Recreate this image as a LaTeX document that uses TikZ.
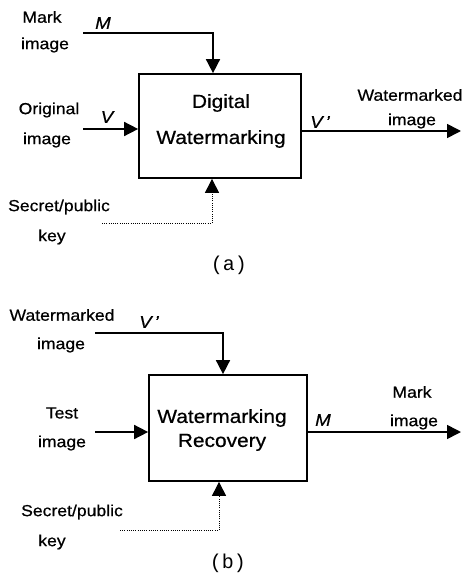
\documentclass[tikz,border=0pt]{standalone}
\usepackage{fontspec}
\setsansfont{Liberation Sans}[FakeStretch=1.1,FakeBold=0.6]
\setmonofont{Liberation Mono}
\usetikzlibrary{arrows.meta}

\begin{document}
\begin{tikzpicture}[x=1pt,y=-1pt,>={Triangle[length=14pt,width=14pt]},line width=1.6pt,
  lbl/.style={font=\sffamily\fontsize{16}{18}\selectfont,inner sep=0pt},
  sym/.style={font=\sffamily\itshape\fontsize{17}{19}\selectfont,inner sep=0pt},
  blk/.style={draw,line width=1.7pt,inner sep=0pt},
  btxt/.style={font=\sffamily\fontsize{19}{24}\selectfont,align=center,inner sep=0pt},
  keyline/.style={line width=0.7pt,dash pattern=on 0.7pt off 1.5pt},
  subcap/.style={font=\ttfamily\fontsize{20}{22}\selectfont,inner sep=0pt}]
  \useasboundingbox (0,0) rectangle (463,578);

  % (a) embedding
  \node[blk,minimum width=162pt,minimum height=104pt] (DW) at (220,126) {};
  \node[btxt] (DWt) at (221,121) {Digital\\[12pt]Watermarking};
  \node[lbl] (MkA) at (42,17) {Mark};
  \node[lbl] (MkAi) at (45,45) {image};
  \node[sym] (MA) at (103,23) {M};
  \node[lbl] (Org) at (49,110) {Original};
  \node[lbl] (Orgi) at (47,140) {image};
  \node[sym] (VA) at (107,117) {V};
  \node[sym] (VpA) at (320,122) {V\,'};
  \node[lbl] (WmA) at (410,95) {Watermarked};
  \node[lbl] (WmAi) at (412,121) {image};
  \node[lbl] (SkA) at (59,207) {Secret/public};
  \node[lbl] (SkAk) at (52,237) {key};
  \node[subcap] (capa) at (229,265) {(a)};
  \coordinate (MinA) at (83,33);
  \coordinate (VinA) at (83,129);
  \coordinate (VoutA) at (461,131);
  \coordinate (KinA) at (102,223);
  \draw[->] (MinA) -| ([xshift=-7pt]DW.north);
  \draw[->] (VinA) -- (VinA -| DW.west);
  \draw[->] (DW.east |- VoutA) -- (VoutA);
  \draw[->,keyline] (KinA) -| ([xshift=-8pt]DW.south);

  % (b) recovery
  \node[blk,minimum width=158pt,minimum height=106pt] (WR) at (228,428) {};
  \node[btxt] (WRt) at (222,430) {Watermarking\\Recovery};
  \node[lbl] (WmB) at (62,315) {Watermarked};
  \node[lbl] (WmBi) at (61,345) {image};
  \node[sym] (VpB) at (149,322) {V\,'};
  \node[lbl] (Tst) at (62,413) {Test};
  \node[lbl] (Tsti) at (62,443) {image};
  \node[sym] (MB) at (323,420) {M};
  \node[lbl] (MkB) at (412,392) {Mark};
  \node[lbl] (MkBi) at (414,422) {image};
  \node[lbl] (SkB) at (72,512) {Secret/public};
  \node[lbl] (SkBk) at (52,542) {key};
  \node[subcap] (capb) at (228,563) {(b)};
  \coordinate (VinB) at (95,333);
  \coordinate (TinB) at (95,432);
  \coordinate (MoutB) at (461,432);
  \coordinate (KinB) at (120,530);
  \draw[->] (VinB) -| ([xshift=-5pt]WR.north);
  \draw[->] (TinB) -- (TinB -| WR.west);
  \draw[->] (WR.east |- MoutB) -- (MoutB);
  \draw[->,keyline] (KinB) -| ([xshift=-9pt]WR.south);
\end{tikzpicture}
\end{document}
